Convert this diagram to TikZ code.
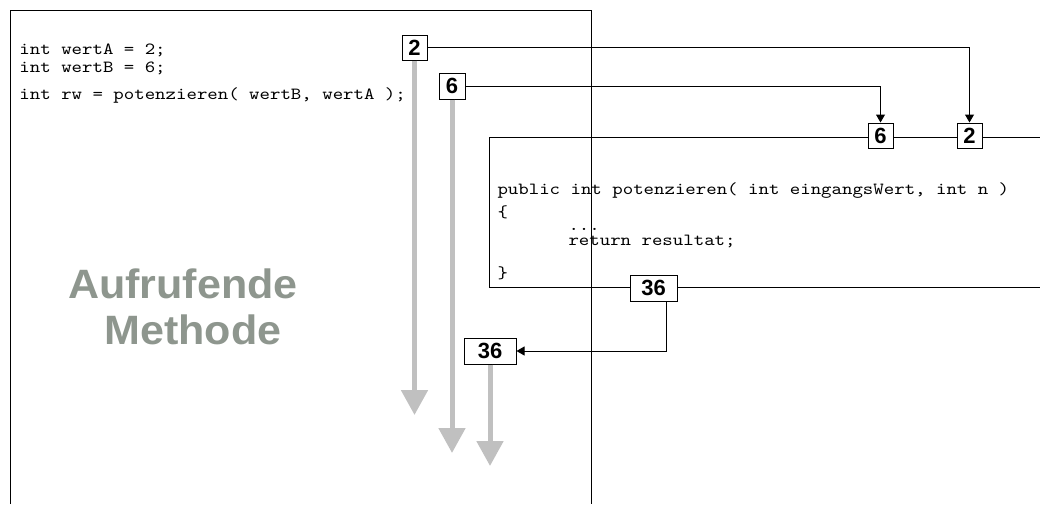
\documentclass[tikz,border=0pt]{standalone}
\usepackage{fontspec}
\setmainfont{Liberation Sans}
\newfontfamily\codefont{lmmono10-regular.otf}[FakeStretch=1.17]
\newfontfamily\titelfont{Liberation Sans}[FakeStretch=1.05]
\usetikzlibrary{arrows.meta}
\definecolor{flussgrau}{RGB}{192,192,192}
\definecolor{titelgrau}{RGB}{142,150,142}

\begin{document}
\begin{tikzpicture}[x=1pt, y=-1pt, line width=1pt]
				\tikzstyle{wert}=[draw, fill=white, inner sep=0pt, minimum width=25pt, minimum height=25pt, font=\fontsize{22}{22}\selectfont\bfseries]
				\tikzstyle{code}=[inner sep=0pt, anchor=base west, font=\fontsize{17}{17}\selectfont\codefont]
				\tikzstyle{titel}=[titelgrau, inner sep=0pt, anchor=base, font=\fontsize{41}{41}\selectfont\titelfont\bfseries]
				\tikzstyle{fluss}=[flussgrau, line width=5pt, -{Triangle[length=25pt, width=26pt]}]
				\tikzstyle{pfeil}=[-{Triangle[length=8pt, width=9pt]}]
				\useasboundingbox (0, 0) rectangle (1040, 504);
				% aufrufende Methode und potenzieren()
				\draw (10, 504) -- (10, 10) -- (591, 10) -- (591, 504);
				\draw (1040, 137) -- (489, 137) -- (489, 287) -- (1040, 287);
				\node[code] (a1) at (19, 54) {int wertA = 2;};
				\node[code] (a2) at (19, 72) {int wertB = 6;};
				\node[code] (a3) at (19, 99) {int rw = potenzieren( wertB, wertA );};
				\node[code] (m1) at (497, 194) {public int potenzieren( int eingangsWert, int n )};
				\node[code] (m2) at (497, 217) {\{};
				\node[code] (m3) at (568, 230) {...};
				\node[code] (m4) at (568, 245) {return resultat;};
				\node[code] (m5) at (497, 278) {\}};
				\node[titel] (t1) at (183, 298) {Aufrufende};
				\node[titel] (t2) at (193, 344) {Methode};
				% Werte
				\node[wert] (w2) at (414.5, 47.5) {2};
				\node[wert, minimum size=26pt] (w6) at (452, 86) {6};
				\node[wert] (p6) at (880.5, 135.5) {6};
				\node[wert] (p2) at (969.5, 135.5) {2};
				\node[wert, minimum width=47pt, minimum height=26pt] (r36) at (653.5, 288) {36};
				\node[wert, minimum width=52pt, minimum height=26pt] (e36) at (490, 351) {36};
				\coordinate (f2) at (414.5, 415);
				\coordinate (f6) at (452, 453);
				\coordinate (f36) at (490, 466);
				\draw[fluss] (w2) -- (f2);
				\draw[fluss] (w6) -- (f6);
				\draw[fluss] (e36) -- (f36);
				\draw[pfeil] (w2) -| (p2);
				\draw[pfeil] (w6) -| (p6);
				\draw[pfeil] ([xshift=12.5pt]r36.south) |- (e36);
		\end{tikzpicture}
\end{document}
